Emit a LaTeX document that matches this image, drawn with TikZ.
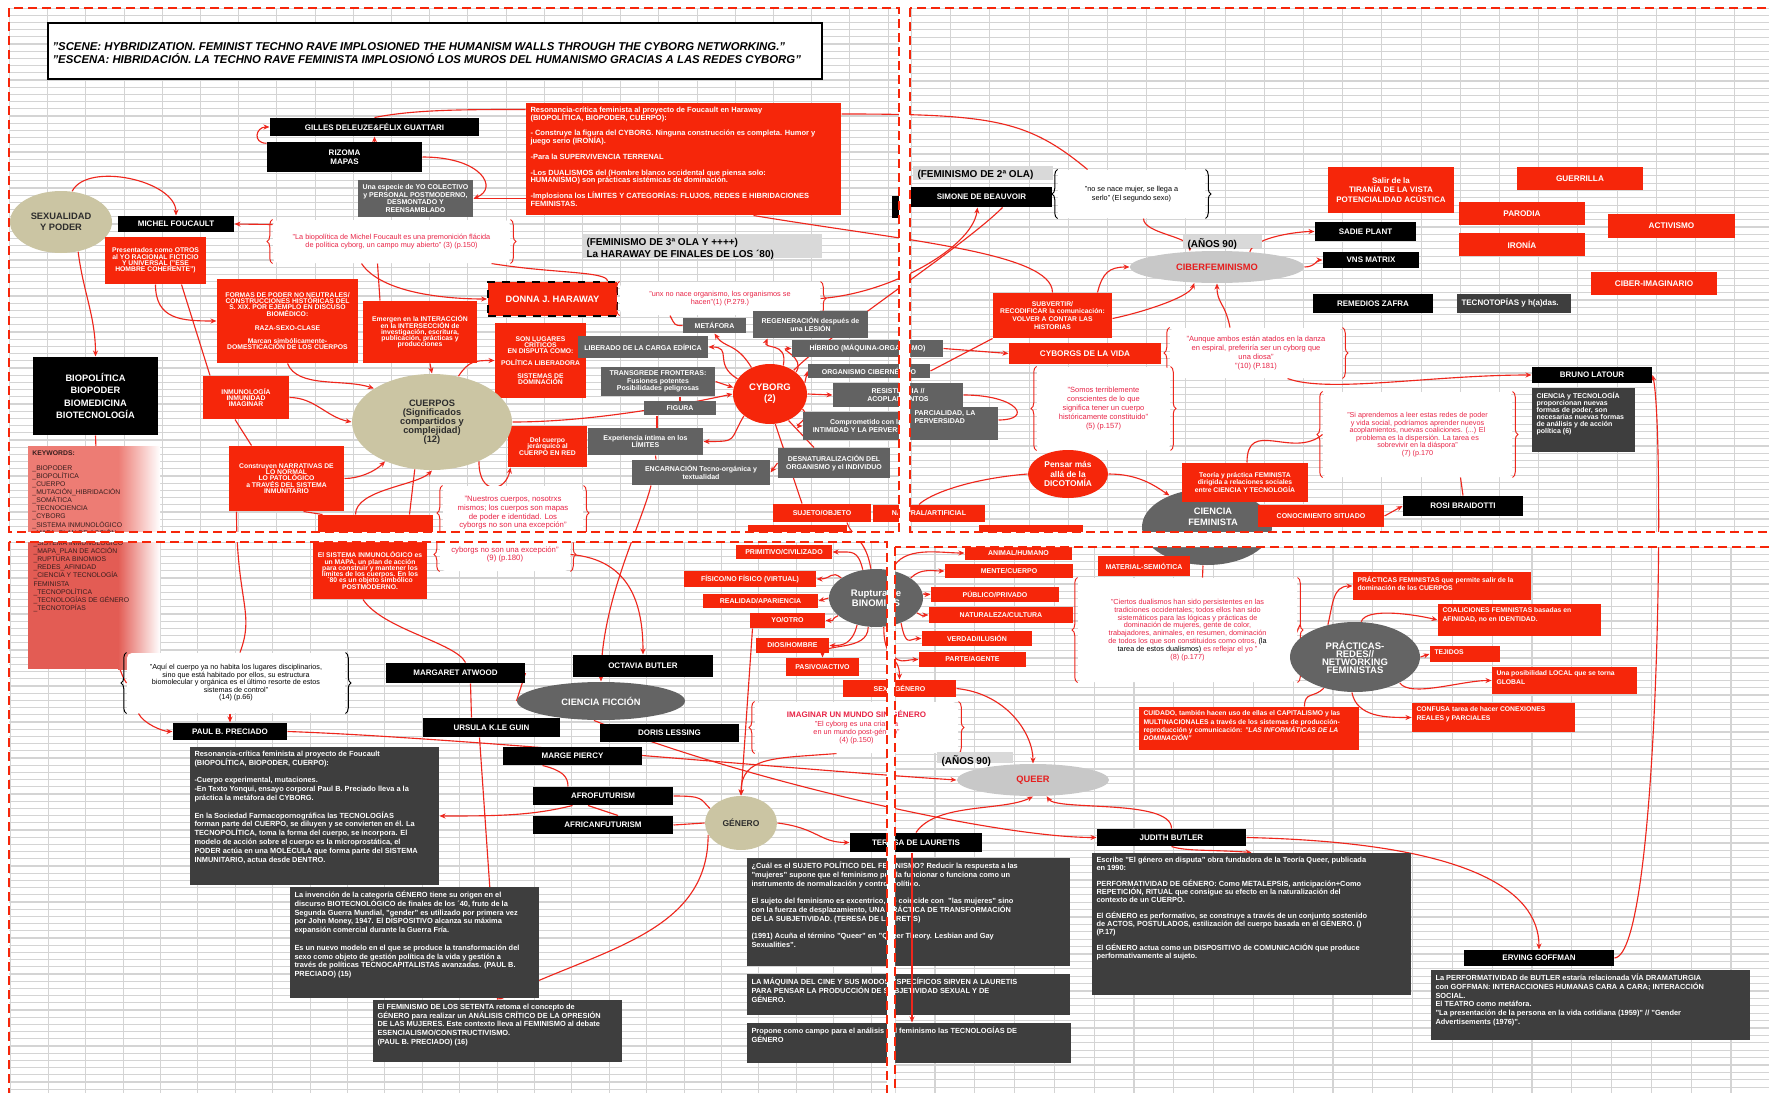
\documentclass[tikz,border=0pt]{standalone}
\usepackage{fontspec}
\setmainfont{Liberation Sans}
\usetikzlibrary{shapes.geometric,arrows.meta,decorations.pathreplacing,calc}
\definecolor{rd}{RGB}{246,38,10}
\definecolor{gy}{RGB}{98,98,98}
\definecolor{dk}{RGB}{62,62,62}
\definecolor{tanc}{RGB}{203,197,163}
\definecolor{lgc}{RGB}{200,200,200}
\definecolor{dgc}{RGB}{100,100,100}
\definecolor{lblc}{RGB}{217,217,217}
\definecolor{ln}{RGB}{238,38,28}
\definecolor{qt}{RGB}{232,36,70}
\definecolor{gridc}{RGB}{212,212,212}
\definecolor{tx}{RGB}{45,45,45}
\definecolor{rtx}{RGB}{230,30,30}
\definecolor{kwA}{RGB}{237,124,116}
\definecolor{kwB}{RGB}{227,92,84}
\definecolor{kwt}{RGB}{55,30,30}
\pgfdeclarelayer{grid}\pgfdeclarelayer{edges}\pgfdeclarelayer{gaps}
\pgfsetlayers{grid,edges,main,gaps}
\newcommand\tgt{\lineskiplimit=-20pt\lineskip=0pt}
\newcommand\fTitle{\fontsize{4.55pt}{5.4pt}\selectfont\bfseries\itshape\tgt}
\newcommand\fBlk{\fontsize{3.2pt}{3.6pt}\selectfont\bfseries\tgt}
\newcommand\fGry{\fontsize{2.8pt}{3pt}\selectfont\bfseries\tgt}
\newcommand\fRed{\fontsize{2.72pt}{2.52pt}\selectfont\bfseries\tgt}
\newcommand\fRlab{\fontsize{3.28pt}{3.6pt}\selectfont\bfseries\tgt}
\newcommand\fBin{\fontsize{2.8pt}{3pt}\selectfont\bfseries\tgt}
\newcommand\fDk{\fontsize{2.96pt}{3.52pt}\selectfont\bfseries\tgt}
\newcommand\fDkb{\fontsize{2.96pt}{3.2pt}\selectfont\bfseries\tgt}
\newcommand\fHar{\fontsize{3pt}{3.08pt}\selectfont\bfseries\tgt}
\newcommand\fQ{\fontsize{2.92pt}{3.32pt}\selectfont\tgt}
\newcommand\fQn{\fontsize{3.1pt}{3.48pt}\selectfont\tgt}
\newcommand\fQb{\fontsize{3pt}{3.6pt}\selectfont\tgt}
\newcommand\fQs{\fontsize{2.88pt}{3pt}\selectfont\tgt}
\newcommand\fQe{\fontsize{2.92pt}{3.12pt}\selectfont\tgt}
\newcommand\fLab{\fontsize{4pt}{4.9pt}\selectfont\bfseries\tgt}
\newcommand\fEl{\fontsize{3.72pt}{4.2pt}\selectfont\bfseries\tgt}
\newcommand\fCu{\fontsize{3.72pt}{3.6pt}\selectfont\bfseries\tgt}
\newcommand\fBio{\fontsize{3.72pt}{5pt}\selectfont\bfseries\tgt}
\newcommand\fCy{\fontsize{3.8pt}{4.4pt}\selectfont\bfseries\tgt}
\newcommand\fDon{\fontsize{3.72pt}{4pt}\selectfont\bfseries\tgt}
\newcommand\fPen{\fontsize{3.36pt}{3.72pt}\selectfont\bfseries\tgt}
\newcommand\fRup{\fontsize{3.8pt}{4.1pt}\selectfont\bfseries\tgt}
\newcommand\fGen{\fontsize{3.4pt}{4pt}\selectfont\bfseries\tgt}
\newcommand\fPra{\fontsize{3.8pt}{3.2pt}\selectfont\bfseries\tgt}
\newcommand\fTir{\fontsize{3.2pt}{3.8pt}\selectfont\bfseries\tgt}
\newcommand\fSub{\fontsize{2.72pt}{3.16pt}\selectfont\bfseries\tgt}
\newcommand\fRt{\fontsize{2.72pt}{3.32pt}\selectfont\bfseries\tgt}
\newcommand\fBt{\fontsize{2.8pt}{2.8pt}\selectfont\bfseries\tgt}
\newcommand\fKw{\fontsize{2.72pt}{3.25pt}\selectfont\tgt}
\newcommand\fImg{\fontsize{3.2pt}{3.6pt}\selectfont\bfseries\tgt}
\tikzset{
 base/.style={inner sep=0pt, align=center},
 blk/.style={base, fill=black, text=white, font=\fBlk},
 gry/.style={base, fill=gy, text=white, font=\fGry},
 rbx/.style={base, fill=rd, text=white, font=\fRed},
 rlab/.style={base, fill=rd, text=white, font=\fRlab},
 dkb/.style={base, fill=dk},
 lab/.style={base, fill=lblc},
 qbox/.style={base, fill=white, rounded corners=2pt, text=qt, font=\fQ},
 brc/.style={line width=0.4pt, decorate, decoration={brace, amplitude=2.2pt}},
 tanE/.style={base, ellipse, fill=tanc, text=tx, font=\fEl},
 lgE/.style={base, ellipse, fill=lgc, text=rtx, font=\fEl},
 dgE/.style={base, ellipse, fill=dgc, text=white, font=\fEl},
 rdE/.style={base, ellipse, fill=rd, text=white, font=\fEl},
 cn/.style={draw=ln, line width=0.45pt},
 ca/.style={cn, -{Stealth[length=2.4pt,width=2pt]}},
 txt/.style={inner sep=0pt, align=left, anchor=north west, text=white},
 gridl/.style={draw=gridc, line width=0.45pt},
 qd/.style={draw=rd, line width=0.8pt, dash pattern=on 3.6pt off 2pt},
}
\newcommand\B[7]{\node[#1,minimum width={(#5-#3)*0.4pt},minimum height={(#6-#4)*0.4pt}] (#2) at ({(#3+#5)/2},{(#4+#6)/2}) {#7};}
\newcommand\E[7]{\node[#1,minimum width={#5*0.8pt},minimum height={#6*0.8pt}] (#2) at (#3,#4) {#7};}
\newcommand\T[8]{\node[#1,minimum width={(#5-#3)*0.4pt},minimum height={(#6-#4)*0.4pt}] (#2) at ({(#3+#5)/2},{(#4+#6)/2}) {};\node[txt,#7] (#2txt) at ({#3+4},{#4+3.5}) {#8};}
\newcommand\Q[8]{\B{qbox,#1}{#2}{#3}{#4}{#5}{#6}{#7}\draw[brc,draw=#8] (#2.south west) -- (#2.north west);\draw[brc,draw=#8] (#2.north east) -- (#2.south east);}
\begin{document}
\begin{tikzpicture}[x=0.4pt,y=-0.4pt]
\useasboundingbox (0,0) rectangle (1769,1093);
\begin{pgfonlayer}{grid}
\fill[white] (0,0) rectangle (1769,1093);
\begin{scope}
\clip (9,8) rectangle (899,532);
\foreach \i in {0,...,23} \draw[gridl] ({9.5+38.2*\i},8) -- ({9.5+38.2*\i},532);
\foreach \j in {0,...,73} \draw[gridl] (9,{8+7.2*\j}) -- (899,{8+7.2*\j});
\end{scope}
\begin{scope}
\clip (910,8) rectangle (1769,532);
\foreach \i in {0,...,22} \draw[gridl] ({911.5+39.2*\i},8) -- ({911.5+39.2*\i},532);
\foreach \j in {0,...,72} \draw[gridl] (910,{8+7.3*\j}) -- (1769,{8+7.3*\j});
\end{scope}
\begin{scope}
\clip (9,542) rectangle (887,1093);
\foreach \i in {0,...,24} \draw[gridl] ({10.9+37.4*\i},542) -- ({10.9+37.4*\i},1093);
\foreach \j in {0,...,77} \draw[gridl] (9,{542+7.2*\j}) -- (887,{542+7.2*\j});
\end{scope}
\begin{scope}
\clip (895,547) rectangle (1769,1093);
\foreach \i in {0,...,22} \draw[gridl] ({895.2+39.8*\i},547) -- ({895.2+39.8*\i},1093);
\foreach \j in {0,...,74} \draw[gridl] (895,{547+7.4*\j}) -- (1769,{547+7.4*\j});
\end{scope}
\end{pgfonlayer}
% ================= TOP LEFT
\B{base,draw=black,line width=0.5pt,fill=white}{title}{48}{23}{822}{79}{}
\node[txt,text=black,font=\fTitle] (titletxt) at (52,42) {"SCENE: HYBRIDIZATION. FEMINIST TECHNO RAVE IMPLOSIONED THE HUMANISM WALLS THROUGH THE CYBORG NETWORKING."\\"ESCENA: HIBRIDACIÓN. LA TECHNO RAVE FEMINISTA IMPLOSIONÓ LOS MUROS DEL HUMANISMO GRACIAS A LAS REDES CYBORG"};
\B{blk}{gilles}{270}{118}{479}{136}{GILLES DELEUZE\&FÉLIX GUATTARI}
\B{blk}{rizoma}{267}{142}{422}{172}{RIZOMA\\MAPAS}
\B{gry}{yocol}{358}{180}{473}{217}{Una especie de YO COLECTIVO\\y PERSONAL POSTMODERNO,\\DESMONTADO Y\\REENSAMBLADO}
\E{tanE}{sexpod}{61}{222}{51}{31}{SEXUALIDAD\\Y PODER}
\B{blk}{foucault}{118}{216}{234}{232}{MICHEL FOUCAULT}
\B{rbx}{presentados}{105}{237}{206}{284}{Presentados como OTROS\\al YO RACIONAL FICTICIO\\Y UNIVERSAL ("ESE\\HOMBRE COHERENTE")}
\Q{}{q3}{273}{220}{510}{263}{"La biopolítica de Michel Foucault es una premonición flácida\\de política cyborg, un campo muy abierto" (3) (p.150)}{ln}
\T{rbx}{harred}{526}{103}{841}{215}{font=\fHar}{Resonancia-crítica feminista al proyecto de Foucault en Haraway\\(BIOPOLÍTICA, BIOPODER, CUERPO):\\[3.2pt]- Construye la figura del CYBORG. Ninguna construcción es completa. Humor y\\juego serio (IRONÍA).\\[3.2pt]-Para la SUPERVIVENCIA TERRENAL\\[3.2pt]-Los DUALISMOS del (Hombre blanco occidental que piensa solo:\\HUMANISMO) son prácticas sistémicas de dominación.\\[3.2pt]-Implosiona los LÍMITES Y CATEGORÍAS: FLUJOS, REDES E HIBRIDACIONES\\FEMINISTAS.}
\B{rbx}{formas}{217}{279}{358}{363}{FORMAS DE PODER NO NEUTRALES/\\CONSTRUCCIONES HISTÓRICAS DEL\\S. XIX. POR EJEMPLO EN DISCUSO\\BIOMÉDICO:\\[3.1pt]RAZA-SEXO-CLASE\\[2.8pt]Marcan simbólicamente-\\DOMESTICACIÓN DE LOS CUERPOS}
\B{rbx}{emergen}{363}{301}{477}{363}{Emergen en la INTERACCIÓN\\en la INTERSECCIÓN de\\investigación, escritura,\\publicación, prácticas y\\producciones}
\T{lab}{ola3}{582}{234}{822}{258}{text=black,font=\fLab}{(FEMINISMO DE 3ª OLA Y ++++)\\La HARAWAY DE FINALES DE LOS ´80)}
\B{rbx,draw=black,dashed,line width=0.7pt,font=\fDon}{donna}{488}{282}{617}{316}{DONNA J. HARAWAY}
\Q{}{q1}{620}{282}{820}{315}{"unx no nace organismo, los organismos se\\hacen"(1) (P.279.)}{ln}
\B{rbx}{lugares}{495}{323}{586}{398}{SON LUGARES\\CRÍTICOS\\EN DISPUTA COMO:\\[2.2pt]POLÍTICA LIBERADORA\\[2.6pt]SISTEMAS DE\\DOMINACIÓN}
\B{gry}{metafora}{683}{318}{746}{333}{METÁFORA}
\B{gry}{regen}{753}{311}{868}{338}{REGENERACIÓN después de\\una LESIÓN}
\B{gry}{liberado}{578}{336}{708}{358}{LIBERADO DE LA CARGA EDÍPICA}
\B{gry}{hibrido}{792}{340}{943}{357}{HÍBRIDO (MÁQUINA-ORGANISMO)}
\B{gry}{orgcib}{808}{364}{930}{378}{ORGANISMO CIBERNÉTICO}
\B{gry}{resist}{833}{383}{963}{407}{RESISTENCIA //\\ACOPLAMIENTOS}
\B{gry}{transgrede}{601}{367}{715}{396}{TRANSGREDE FRONTERAS:\\Fusiones potentes\\Posibilidades peligrosas}
\B{gry}{figura}{644}{401}{716}{415}{FIGURA}
\E{rdE,font=\fCy}{cyborg}{770}{394}{37}{30}{CYBORG\\(2)}
\B{gry}{comprom}{803}{412}{998}{440}{}
\node[base,text=white,font=\fGry] (compromtxt) at (866,426) {Comprometido con la\\INTIMIDAD Y LA PERVERSIDAD};
\B{gry}{desnat}{778}{448}{890}{478}{DESNATURALIZACIÓN DEL\\ORGANISMO y el INDIVIDUO}
\B{gry}{experiencia}{588}{428}{703}{455}{Experiencia íntima en los\\LÍMITES}
\B{gry}{encarnacion}{632}{460}{770}{485}{ENCARNACIÓN Tecno-orgánica y\\textualidad}
\B{rbx}{delcuerpo}{508}{426}{587}{467}{Del cuerpo\\jerárquico al\\CUERPO EN RED}
\E{tanE,font=\fCu}{cuerpos}{432}{422}{80}{48}{CUERPOS\\(Significados\\compartidos y\\complejidad)\\(12)}
\Q{font=\fQn}{q9}{443}{486}{583}{540}{"Nuestros cuerpos, nosotrxs\\mismos; los cuerpos son mapas\\de poder e identidad. Los\\cyborgs no son una excepción"}{ln}
\B{rbx,font=\fBin}{sujeto}{773}{504}{871}{522}{SUJETO/OBJETO}
\B{rbx,font=\fBin}{natart}{873}{505}{985}{522}{NATURAL/ARTIFICIAL}
\B{rbx}{inmunologia}{203}{376}{289}{419}{INMUNOLOGÍA\\INMUNIDAD\\IMAGINAR}
\B{rbx}{construyen}{229}{446}{344}{511}{Construyen NARRATIVAS DE\\LO NORMAL\\LO PATOLÓGICO\\a TRAVÉS DEL SISTEMA\\INMUNITARIO}
\B{blk,font=\fBio}{biopol}{33}{357}{158}{435}{BIOPOLÍTICA\\BIOPODER\\BIOMEDICINA\\BIOTECNOLOGÍA}
\B{rbx}{sistop}{318}{515}{433}{536}{}
\B{rbx}{slA}{748}{525}{847}{536}{}
\B{rbx}{slB}{979}{525}{1083}{536}{}
\B{blk}{blkA}{892}{196}{903}{218}{}
% ================= TOP RIGHT
\T{lab}{ola2}{913}{166}{1053}{180}{text=black,font=\fLab}{(FEMINISMO DE 2ª OLA)}
\B{blk}{simone}{911}{187}{1052}{207}{SIMONE DE BEAUVOIR}
\Q{text=black}{q2}{1058}{170}{1205}{218}{"no se nace mujer, se llega a\\serlo" (El segundo sexo)}{black}
\T{lab}{anos90a}{1183}{235}{1262}{248}{text=black,font=\fLab}{(AÑOS 90)}
\E{lgE}{ciberfem}{1217}{267}{87}{16}{CIBERFEMINISMO}
\B{rbx,font=\fSub}{subvertir}{993}{293}{1112}{338}{SUBVERTIR/\\RECODIFICAR la comunicación:\\VOLVER A CONTAR LAS\\HISTORIAS}
\B{rbx,font=\fRlab}{cyvida}{1009}{343}{1161}{364}{CYBORGS DE LA VIDA}
\Q{font=\fQb}{q10}{1170}{328}{1342}{378}{"Aunque ambos están atados en la danza\\en espiral, preferiría ser un cyborg que\\una diosa"\\"(10) (P.181)}{ln}
\B{rbx,font=\fTir}{tirania}{1328}{167}{1454}{213}{Salir de la\\TIRANÍA DE LA VISTA\\POTENCIALIDAD ACÚSTICA}
\B{rlab}{guerrilla}{1517}{167}{1643}{190}{GUERRILLA}
\B{rlab}{parodia}{1459}{202}{1585}{225}{PARODIA}
\B{rlab}{activismo}{1608}{214}{1735}{238}{ACTIVISMO}
\B{rlab}{ironia}{1459}{233}{1585}{256}{IRONÍA}
\B{rlab}{ciberimag}{1591}{272}{1717}{295}{CIBER-IMAGINARIO}
\B{blk}{sadie}{1315}{222}{1416}{241}{SADIE PLANT}
\B{blk}{vns}{1323}{252}{1419}{268}{VNS MATRIX}
\B{blk}{remedios}{1313}{294}{1433}{313}{REMEDIOS ZAFRA}
\T{dkb}{tecnotopias}{1457}{294}{1571}{313}{font=\fBlk}{TECNOTOPÍAS y h(a)das.}
\Q{font=\fQb}{q5}{1037}{367}{1170}{450}{"Somos terriblemente\\conscientes de lo que\\significa tener un cuerpo\\históricamente constituido"\\(5) (p.157)}{ln}
\E{rdE,font=\fPen}{pensar}{1068}{474}{40}{24}{Pensar más\\allá de la\\DICOTOMÍA}
\E{dgE}{cienfem}{1207}{527}{65}{38}{}
\node[base,text=white,font=\fEl] (cienfemtxt) at (1213,517) {CIENCIA\\FEMINISTA};
\B{rbx,font=\fSub}{teoria}{1182}{463}{1308}{502}{Teoría y práctica FEMINISTA\\dirigida a relaciones sociales\\entre CIENCIA Y TECNOLOGÍA}
\B{rbx,font=\fBin}{conocimiento}{1258}{505}{1384}{527}{CONOCIMIENTO SITUADO}
\Q{font=\fQs}{q7}{1323}{392}{1512}{477}{"Si aprendemos a leer estas redes de poder\\y vida social, podríamos aprender nuevos\\acoplamientos, nuevas coaliciones. (...) El\\problema es la dispersión. La tarea es\\sobrevivir en la diáspora"\\(7) (p.170}{ln}
\B{blk}{bruno}{1532}{367}{1652}{383}{BRUNO LATOUR}
\T{dkb}{brunotxt}{1532}{388}{1635}{452}{font=\fBt}{CIENCIA y TECNOLOGÍA\\proporcionan nuevas\\formas de poder, son\\necesarias nuevas formas\\de análisis y de acción\\política (6)}
\B{blk}{rosi}{1403}{496}{1523}{516}{ROSI BRAIDOTTI}
\T{gry}{parcial}{910}{407}{998}{433}{font=\fGry}{PARCIALIDAD, LA\\PERVERSIDAD}
% ================= BOTTOM LEFT
\fill[kwA] (28,446) rectangle (118,536);
\shade[left color=kwA,right color=white] (118,446) rectangle (160,536);
\fill[kwB] (28,540) rectangle (118,669);
\shade[left color=kwB,right color=white] (118,540) rectangle (160,669);
\node[txt,text=kwt,font=\fKw] (kwtop) at (32,450) {\textbf{KEYWORDS:}\\[2.7pt]\_BIOPODER\\\_BIOPOLÍTICA\\\_CUERPO\\\_MUTACIÓN\_HIBRIDACIÓN\\\_SOMÁTICA\\\_TECNOCIENCIA\\\_CYBORG\\\_SISTEMA INMUNOLÓGICO\\\_MAPA\_PLAN DE ACCIÓN};
\node[txt,text=kwt,font=\fKw] (kwbot) at (33,539) {\_SISTEMA INMUNOLÓGICO\\\_MAPA\_PLAN DE ACCIÓN\\\_RUPTURA BINOMIOS\\\_REDES\_AFINIDAD\\\_CIENCIA Y TECNOLOGÍA\\FEMINISTA\\\_TECNOPOLÍTICA\\\_TECNOLOGÍAS DE GÉNERO\\\_TECNOTOPÍAS};
\B{rbx}{sistema}{313}{542}{427}{599}{El SISTEMA INMUNOLÓGICO es\\un MAPA, un plan de acción\\para construir y mantener los\\límites de los cuerpos. En los\\´80 es un objeto simbólico\\POSTMODERNO.}
\Q{font=\fQn}{q9b}{440}{538}{570}{571}{cyborgs no son una excepción"\\(9) (p.180)}{ln}
\B{rbx,font=\fBin}{primitivo}{736}{545}{832}{559}{PRIMITIVO/CIVILIZADO}
\B{rbx,font=\fBin}{fisico}{684}{571}{816}{587}{FÍSICO/NO FÍSICO (VIRTUAL)}
\B{rbx,font=\fBin}{realidad}{703}{594}{818}{608}{REALIDAD/APARIENCIA}
\B{rbx,font=\fBin}{yootro}{750}{613}{825}{628}{YO/OTRO}
\B{rbx,font=\fBin}{dioshombre}{756}{638}{829}{653}{DIOS/HOMBRE}
\B{rbx,font=\fBin}{pasivo}{786}{658}{859}{676}{PASIVO/ACTIVO}
\B{rbx,font=\fBin}{sexogen}{843}{680}{956}{697}{SEXO/GÉNERO}
\E{dgE,font=\fRup}{ruptura}{876}{598}{47}{29}{Ruptura de\\BINOMIOS}
\Q{}{q4}{755}{702}{958}{753}{{\fImg IMAGINAR UN MUNDO SIN GÉNERO}\\"El cyborg es una criatura\\en un mundo post-género"\\(4) (p.150)}{ln}
\B{blk}{octavia}{573}{655}{713}{677}{OCTAVIA BUTLER}
\B{blk}{margaret}{386}{663}{525}{683}{MARGARET ATWOOD}
\E{dgE}{cficcion}{601}{701}{84}{19}{CIENCIA FICCIÓN}
\B{blk}{ursula}{423}{718}{560}{737}{URSULA K.LE GUIN}
\B{blk}{doris}{600}{724}{739}{742}{DORIS LESSING}
\B{blk}{marge}{503}{747}{642}{765}{MARGE PIERCY}
\B{blk}{afro}{533}{787}{673}{805}{AFROFUTURISM}
\B{blk}{africa}{533}{816}{673}{834}{AFRICANFUTURISM}
\E{tanE,font=\fGen}{genero}{741}{823}{36}{27}{GÉNERO}
\B{blk}{teresa}{850}{833}{982}{852}{TERESA DE LAURETIS}
\T{dkb}{teresa1}{747}{858}{1070}{966}{font=\fDk}{¿Cuál es el SUJETO POLÍTICO DEL FEMINISMO? Reducir la respuesta a las\\"mujeres" supone que el feminismo pueda funcionar o funciona como un\\instrumento de normalización y control político.\\[3.52pt]El sujeto del feminismo es excentrico, no coincide con \ "las mujeres" sino\\con la fuerza de desplazamiento, UNA PRÁCTICA DE TRANSFORMACIÓN\\DE LA SUBJETIVIDAD. (TERESA DE LAURETIS)\\[3.52pt](1991) Acuña el término "Queer" en "Queer Theory. Lesbian and Gay\\Sexualities".}
\T{dkb}{teresa2}{747}{974}{1070}{1015}{font=\fDk}{LA MÁQUINA DEL CINE Y SUS MODOS ESPECÍFICOS SIRVEN A LAURETIS\\PARA PENSAR LA PRODUCCIÓN DE SUBJETIVIDAD SEXUAL Y DE\\GÉNERO.}
\T{dkb}{teresa3}{747}{1023}{1071}{1063}{font=\fDk}{Propone como campo para el análisis del feminismo las TECNOLOGÍAS DE\\GÉNERO}
\Q{text=black,font=\fQs}{q14}{127}{653}{345}{713}{"Aquí el cuerpo ya no habita los lugares disciplinarios,\\sino que está habitado por ellos, su estructura\\biomolecular y orgánica es el último resorte de estos\\sistemas de control"\\(14) (p.66)}{black}
\B{blk}{preciado}{173}{723}{287}{740}{PAUL B. PRECIADO}
\T{dkb}{prec1}{190}{747}{439}{885}{font=\fDk}{Resonancia-crítica feminista al proyecto de Foucault\\(BIOPOLÍTICA, BIOPODER, CUERPO):\\[3.52pt]-Cuerpo experimental, mutaciones.\\-En Texto Yonqui, ensayo corporal Paul B. Preciado lleva a la\\práctica la metáfora del CYBORG.\\[3.52pt]En la Sociedad Farmacopornográfica las TECNOLOGÍAS\\forman parte del CUERPO, se diluyen y se convierten en él. La\\TECNOPOLÍTICA, toma la forma del cuerpo, se incorpora. El\\modelo de acción sobre el cuerpo es la microprostática, el\\PODER actúa en una MOLÉCULA que forma parte del SISTEMA\\INMUNITARIO, actua desde DENTRO.}
\T{dkb}{prec2}{290}{887}{539}{998}{font=\fDk}{La invención de la categoría GÉNERO tiene su origen en el\\discurso BIOTECNOLÓGICO de finales de los ´40, fruto de la\\Segunda Guerra Mundial, "gender" es utilizado por primera vez\\por John Money, 1947. El DISPOSITIVO alcanza su máxima\\expansión comercial durante la Guerra Fría.\\[3.52pt]Es un nuevo modelo en el que se produce la transformación del\\sexo como objeto de gestión política de la vida y gestión a\\través de políticas TECNOCAPITALISTAS avanzadas. (PAUL B.\\PRECIADO) (15)}
\T{dkb}{prec3}{373}{1000}{622}{1062}{font=\fDk}{El FEMINISMO DE LOS SETENTA retoma el concepto de\\GÉNERO para realizar un ANÁLISIS CRÍTICO DE LA OPRESIÓN\\DE LAS MUJERES. Este contexto lleva al FEMINISMO al debate\\ESENCIALISMO/CONSTRUCTIVISMO.\\(PAUL B. PRECIADO) (16)}
% ================= BOTTOM RIGHT
\T{lab}{anos90b}{937}{752}{1013}{763}{text=black,font=\fLab}{(AÑOS 90)}
\E{lgE}{queer}{1033}{780}{76}{16}{QUEER}
\B{blk}{butler}{1097}{829}{1246}{846}{JUDITH BUTLER}
\T{dkb}{butlertxt}{1092}{853}{1411}{995}{font=\fDkb}{Escribe "El género en disputa" obra fundadora de la Teoría Queer, publicada\\en 1990:\\[3.2pt]PERFORMATIVIDAD DE GÉNERO: Como METALEPSIS, anticipación+Como\\REPETICIÓN, RITUAL que consigue su efecto en la naturalización del\\contexto de un CUERPO.\\[3.2pt]El GÉNERO es performativo, se construye a través de un conjunto sostenido\\de ACTOS, POSTULADOS, estilización del cuerpo basada en el GÉNERO. ()\\(P.17)\\[3.2pt]El GÉNERO actua como un DISPOSITIVO de COMUNICACIÓN que produce\\performativamente al sujeto.}
\B{blk}{goffman}{1464}{950}{1614}{966}{ERVING GOFFMAN}
\T{dkb}{goffmantxt}{1431}{970}{1750}{1040}{font=\fDk}{La PERFORMATIVIDAD de BUTLER estaría relacionada VÍA DRAMATURGIA\\con GOFFMAN: INTERACCIONES HUMANAS CARA A CARA; INTERACCIÓN\\SOCIAL.\\El TEATRO como metáfora.\\"La presentación de la persona en la vida cotidiana (1959)" // "Gender\\Advertisements (1976)".}
\B{rbx,font=\fBin}{material}{1098}{556}{1190}{576}{MATERIAL-SEMIÓTICA}
\Q{font=\fQe}{q8}{1078}{578}{1297}{682}{"Ciertos dualismos han sido persistentes en las\\tradiciones occidentales; todos ellos han sido\\sistemáticos para las lógicas y prácticas de\\dominación de mujeres, gente de color,\\trabajadores, animales, en resumen, dominación\\de todos los que son constituidos como otros, \textcolor{black}{(la}\\\textcolor{black}{tarea de estos dualismos)} es reflejar el yo "\\(8) (p.177)}{ln}
\E{dgE,font=\fPra}{practicas}{1355}{657}{65}{35}{PRÁCTICAS-\\REDES//\\NETWORKING\\FEMINISTAS}
\T{rbx}{pfem}{1353}{572}{1531}{600}{font=\fRt}{PRÁCTICAS FEMINISTAS que permite salir de la\\dominación de los CUERPOS}
\T{rbx}{coaliciones}{1438}{604}{1601}{636}{font=\fRt}{COALICIONES FEMINISTAS basadas en\\AFINIDAD, no en IDENTIDAD.}
\T{rbx}{tejidos}{1430}{646}{1500}{662}{font=\fRt}{TEJIDOS}
\T{rbx}{local}{1492}{667}{1637}{694}{font=\fRt}{Una posibilidad LOCAL que se torna\\GLOBAL}
\T{rbx}{confusa}{1412}{703}{1575}{732}{font=\fRt}{CONFUSA tarea de hacer CONEXIONES\\REALES y PARCIALES}
\T{rbx}{cuidado}{1139}{707}{1359}{750}{font=\fRt}{CUIDADO, también hacen uso de ellas el CAPITALISMO y las\\MULTINACIONALES a través de los sistemas de producción-\\reproducción y comunicación: \textit{"LAS INFORMÁTICAS DE LA}\\\textit{DOMINACIÓN"}}
\B{rbx,font=\fBin}{animal}{965}{546}{1072}{560}{ANIMAL/HUMANO}
\B{rbx,font=\fBin}{mente}{945}{564}{1073}{578}{MENTE/CUERPO}
\B{rbx,font=\fBin}{publico}{931}{587}{1059}{602}{PÚBLICO/PRIVADO}
\B{rbx,font=\fBin}{naturaleza}{929}{607}{1073}{623}{NATURALEZA/CULTURA}
\B{rbx,font=\fBin}{verdad}{922}{631}{1032}{646}{VERDAD/ILUSIÓN}
\B{rbx,font=\fBin}{parte}{919}{652}{1026}{667}{PARTE/AGENTE}
\draw[ca] ($(teresa.south)+(-4,0)$) -- ($(teresa.south|-teresa3.north)+(-4,0)$);
% ================= CONNECTORS
\begin{pgfonlayer}{edges}
\draw[ca] (sexpod.70) .. controls +(15,-30) and +(0,-35) .. (foucault.north);
\draw[ca] (sexpod.300) .. controls +(5,40) and +(0,-40) .. (biopol.north);
\draw[ca] ($(q3.north west)+(0,5)$) -- (foucault.east);
\draw[ca] (presentados.south) .. controls +(0,35) and +(-35,0) .. (formas.west);
\draw[cn] ($(presentados.south)+(26,0)$) -- ($(inmunologia.north)+(-36,0)$);
\draw[ca] (rizoma.170) .. controls +(-14,0) and +(-14,0) .. (gilles.west);
\draw[ca] (gilles.south|-rizoma.north) -- (gilles.south);
\draw[cn] (gilles.north) .. controls +(40,-8) and +(-60,0) .. ($(harred.north west)+(0,7)$);
\draw[ca] (rizoma.east) .. controls +(60,0) and +(25,-10) .. (yocol.east);
\draw[cn] (yocol.east) -- (harred.west|-yocol.east);
\draw[cn] ($(q3.south)+(-14,0)$) -- ($(emergen.north)+(-40,0)$);
\draw[ca] ($(q3.south)+(-30,0)$) .. controls +(20,30) and +(-40,0) .. (donna.west);
\draw[cn] ($(q3.south)+(100,0)$) .. controls +(60,10) and +(0,-10) .. ($(donna.north)+(55,0)$);
\draw[ca] (formas.south) .. controls +(10,25) and +(-30,-10) .. (cuerpos.150);
\draw[ca] ($(emergen.south)+(10,0)$) -- (cuerpos.north);
\draw[ca] (inmunologia.east) .. controls +(25,0) and +(-25,-5) .. (cuerpos.west);
\draw[cn] ($(inmunologia.south)+(-11,0)$) -- ($(construyen.north)+(-35,0)$);
\draw[ca] (construyen.east) .. controls +(15,0) and +(-10,10) .. (cuerpos.220);
\draw[cn] ($(construyen.south)+(17,0)$) -- ($(sistop.north west)+(5,0)$);
\draw[ca] ($(sistop.north)+(-20,0)$) .. controls +(0,-25) and +(-15,15) .. (cuerpos.south);
\draw[cn] (cuerpos.250) -- ($(sistop.north)+(34,0)$);
\draw[ca] (cuerpos.east) .. controls +(70,0) and +(-70,15) .. (cyborg.west);
\draw[ca] (cuerpos.60) .. controls +(10,-15) and +(-20,0) .. (lugares.west);
\draw[ca] (cuerpos.320) .. controls +(0,35) and +(-5,25) .. ($(delcuerpo.south west)+(3,0)$);
\draw[ca] (transgrede.east) -- (cyborg.170);
\draw[cn] (figura.north|-transgrede.south) -- (figura.north);
\draw[cn] ($(figura.south)+(-23,0)$) -- ($(experiencia.north)+(11.5,0)$);
\draw[cn] ($(experiencia.south)+(10,0)$) -- ($(encarnacion.north)+(-45,0)$);
\draw[ca] (cyborg.125) .. controls +(-15,-25) and +(10,15) .. (metafora.south);
\draw[ca] (cyborg.65) .. controls +(5,-25) and +(-5,12) .. ($(regen.south west)+(15,0)$);
\draw[ca] (cyborg.40) .. controls +(10,-15) and +(-15,0) .. (hibrido.west);
\draw[ca] (cyborg.18) -- (orgcib.west);
\draw[ca] (cyborg.east) -- (resist.west);
\draw[ca] (cyborg.335) .. controls +(10,10) and +(-10,0) .. (comprom.west);
\draw[cn] (cyborg.305) -- ($(desnat.north)+(-20,0)$);
\draw[ca] (desnat.west) -- (encarnacion.east);
\draw[ca] (cyborg.220) .. controls +(-15,25) and +(35,0) .. (experiencia.east);
\draw[ca] (cyborg.155) .. controls +(-25,-15) and +(25,0) .. (liberado.east);
\draw[cn] (cyborg.280) -- ($(sujeto.north)+(-20,0)$);
\draw[ca] ($(encarnacion.south)+(-50,0)$) .. controls +(-10,40) and +(0,-80) .. (cficcion.north);
\draw[ca] (q9b.east) .. controls +(60,5) and +(0,-50) .. (octavia.north);
\draw[cn] ($(q1.south)+(-50,0)$) .. controls +(5,10) and +(-8,0) .. (metafora.west);
\draw[cn] ($(harred.east)+(0,-45)$) .. controls +(150,0) and +(-60,-50) .. ($(q2.north)+(-44,0)$);
\draw[cn] ($(harred.south east)+(-88,0)$) .. controls +(150,25) and +(0,-40) .. (subvertir.north);
\draw[ca] (q1.east) .. controls +(70,-5) and +(-5,40) .. ($(simone.south)+(-4,0)$);
\draw[cn] ($(simone.south)+(21,0)$) .. controls +(-40,40) and +(40,-40) .. (cyborg.45);
\draw[ca] ($(q2.south)+(12,0)$) .. controls +(0,15) and +(0,-15) .. (ciberfem.150);
\draw[ca] ($(subvertir.north east)+(-15,0)$) .. controls +(5,-20) and +(-20,0) .. (ciberfem.west);
\draw[ca] ($(subvertir.east)+(0,3)$) .. controls +(25,-5) and +(-5,15) .. (ciberfem.215);
\draw[ca] (ciberfem.25) .. controls +(5,-15) and +(-15,0) .. (sadie.west);
\draw[ca] (ciberfem.east) .. controls +(10,0) and +(-5,0) .. (vns.west);
\draw[ca] ($(q10.north)+(-26,0)$) .. controls +(-5,-25) and +(0,20) .. (ciberfem.south);
\draw[ca] (hibrido.east) -- (cyvida.west);
\draw[cn] (orgcib.east) -- (subvertir.south west);
\draw[cn] (resist.east) .. controls +(55,0) and +(35,0) .. (parcial.east);
\draw[cn] (pensar.west) .. controls +(-60,5) and +(10,-10) .. ($(natart.north)+(-10,0)$);
\draw[ca] (pensar.east) .. controls +(30,0) and +(-15,-10) .. (cienfem.140);
\draw[cn] ($(teoria.north)+(2,0)$) .. controls +(0,-45) and +(-30,25) .. (q7.west);
\draw[ca] ($(q10.south east)+(-55,0)$) .. controls +(40,15) and +(-100,0) .. (bruno.west);
\draw[cn] ($(q7.south)+(43,0)$) -- (rosi.north);
\draw[ca] (conocimiento.east) -- (rosi.west);
\draw[ca] (goffman.east) .. controls (1660,955) and (1665,430) .. (bruno.east);
\draw[ca] (butler.east) .. controls +(220,5) and +(0,-60) .. (goffman.north);
\draw[ca] (butler.south) .. controls +(15,5) and +(-40,-3) .. (butlertxt.north);
\draw[ca] (butler.north) .. controls +(0,-30) and +(10,15) .. (queer.310);
\draw[ca] (teresa.north) .. controls +(20,-30) and +(-30,15) .. (queer.south);
\draw[ca] (sexogen.east) .. controls +(50,5) and +(0,-30) .. (queer.north);
\draw[ca] (preciado.east) .. controls (450,737) and (800,770) .. (queer.west);
\draw[ca] (cficcion.250) .. controls +(150,60) and +(-100,0) .. (butler.west);
\draw[ca] (genero.east) .. controls +(40,5) and +(-30,0) .. (teresa.west);
\draw[ca] (genero.200) .. controls +(0,100) and +(100,-50) .. (prec3.north);
\draw[cn] ($(ursula.south)+(-12,0)$) -- (prec3.north);
\draw[cn] (afro.east) .. controls +(30,0) and +(-10,-10) .. (genero.155);
\draw[cn] (africa.east) -- (genero.west);
\draw[cn] ($(marge.south)+(-30,0)$) .. controls +(20,5) and +(0,-10) .. ($(afro.north)+(-35,0)$);
\draw[cn] ($(afro.south)+(-15,0)$) -- ($(africa.north)+(15,0)$);
\draw[ca] ($(afro.south west)+(40,0)$) .. controls +(-40,10) and +(60,0) .. (prec1.east);
\draw[ca] ($(q4.south)+(-20,0)$) .. controls +(-60,5) and +(0,-40) .. (genero.north);
\draw[ca] ($(yootro.south west)+(3,0)$) -- (genero.north);
\draw[ca] ($(q14.south)+(-6,0)$) -- (preciado.north);
\draw[cn] (biopol.south) .. controls (100,560) and (110,660) .. (q14.west);
\draw[ca] ($(q14.south west)+(12,0)$) .. controls +(5,10) and +(-10,0) .. (preciado.west);
\draw[cn] ($(construyen.south)+(-50,0)$) .. controls +(0,90) and +(15,-40) .. ($(q14.north)+(4,0)$);
\draw[cn] ($(sistema.south)+(-7,0)$) .. controls +(20,30) and +(-10,-20) .. ($(margaret.north)+(10,0)$);
\draw[cn] ($(margaret.south)+(15,0)$) -- ($(ursula.north)+(-20,0)$);
\draw[cn] (margaret.east) -- (cficcion.west);
\draw[ca] (ruptura.115) .. controls +(-5,-20) and +(20,0) .. (primitivo.east);
\draw[ca] (ruptura.150) .. controls +(-10,-8) and +(15,0) .. (fisico.east);
\draw[ca] (ruptura.west) -- (realidad.east);
\draw[ca] (ruptura.205) .. controls +(-10,5) and +(12,0) .. (yootro.east);
\draw[ca] (ruptura.235) .. controls +(-5,20) and +(12,0) .. (dioshombre.east);
\draw[ca] (ruptura.255) .. controls +(0,25) and +(0,-15) .. (pasivo.north);
\draw[ca] (ruptura.285) .. controls +(0,35) and +(0,-25) .. (sexogen.north);
\draw[ca] (ruptura.60) .. controls +(10,-25) and +(-25,0) .. (animal.west);
\draw[ca] (ruptura.30) .. controls +(10,-10) and +(-12,0) .. (mente.west);
\draw[ca] (ruptura.5) .. controls +(10,0) and +(-10,0) .. (publico.west);
\draw[ca] (ruptura.340) .. controls +(10,5) and +(-10,0) .. (naturaleza.west);
\draw[ca] (ruptura.315) .. controls +(5,25) and +(-12,0) .. (verdad.west);
\draw[ca] (ruptura.295) .. controls +(0,45) and +(-15,0) .. (parte.west);
\draw[cn] (ruptura.100) .. controls +(-5,-30) and +(5,15) .. ($(sujeto.south)+(25,0)$);
\draw[cn] ($(cienfem.south)+(-4,0)$) -- ($(q8.north)+(15,0)$);
\draw[ca] (practicas.130) .. controls +(5,-20) and +(-20,0) .. (pfem.west);
\draw[ca] (practicas.80) .. controls +(5,-15) and +(-20,-5) .. (coaliciones.west);
\draw[ca] (practicas.east) -- (tejidos.west);
\draw[ca] (practicas.330) .. controls +(10,15) and +(-30,0) .. (local.west);
\draw[ca] (practicas.265) .. controls +(5,25) and +(-25,0) .. (confusa.west);
\draw[cn] ($(cuidado.north east)+(-55,0)$) .. controls +(0,-15) and +(-10,10) .. (practicas.225);
\draw[cn] (q8.east) .. controls +(10,-20) and +(-10,10) .. (practicas.165);
\end{pgfonlayer}
% ================= GAPS
\begin{pgfonlayer}{gaps}
\fill[white,even odd rule] (0,0) rectangle (1769,1093) (9,8) rectangle (899,532) (910,8) rectangle (1769,532) (9,542) rectangle (887,1093) (895,547) rectangle (1769,1093);
\draw[qd] (9,8) rectangle (899,532);
\draw[qd] (910,8) rectangle (1780,532);
\draw[qd] (9,542) rectangle (887,1100);
\draw[qd] (895,547) rectangle (1780,1100);
\end{pgfonlayer}
\end{tikzpicture}
\end{document}
